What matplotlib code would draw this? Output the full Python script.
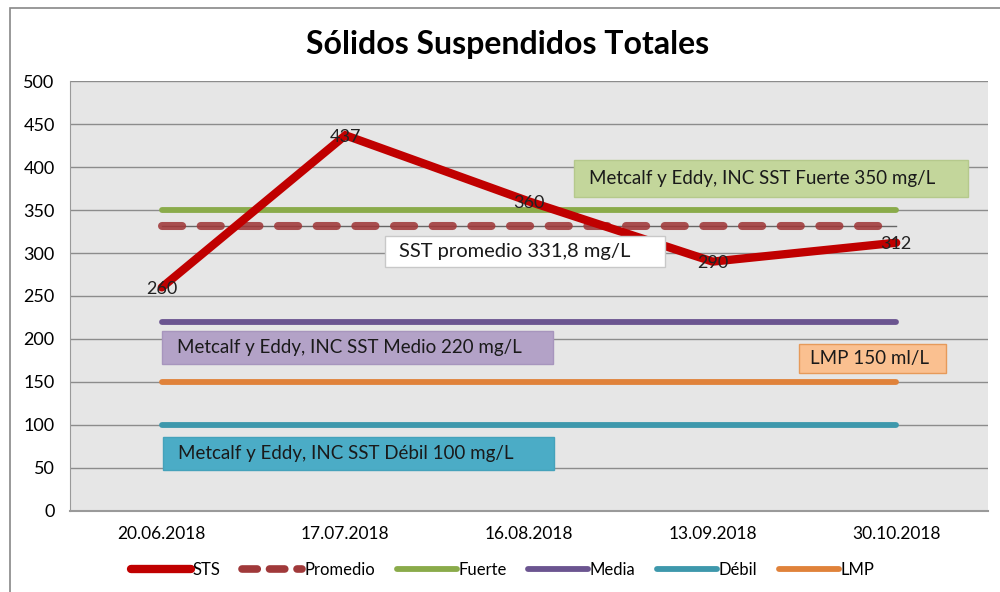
import matplotlib
matplotlib.use("Agg")
import matplotlib.pyplot as plt
from matplotlib.patches import Rectangle
from matplotlib.lines import Line2D

plt.rcParams['font.family'] = ['Lato', 'DejaVu Sans']

# ---- data ----
fechas = ["20.06.2018", "17.07.2018", "16.08.2018", "13.09.2018", "30.10.2018"]
sts = [260, 437, 360, 290, 312]
promedio = [331.8] * 5
fuerte = [350] * 5
media = [220] * 5
debil = [100] * 5
lmp = [150] * 5
yticks = [0, 50, 100, 150, 200, 250, 300, 350, 400, 450, 500]

c_sts = "#c00000"
c_prom = "#a0393a"
c_fuerte = "#8aab4a"
c_media = "#6b5590"
c_debil = "#3e98ac"
c_lmp = "#e0823a"

fig = plt.figure(figsize=(10, 5.92), dpi=100)
fig.patch.set_facecolor("white")
ax = fig.add_axes([0.070, 0.137, 0.918, 0.726])
ax.set_facecolor("#e6e6e6")

x = list(range(len(fechas)))
lw_h = 4.2
prom_dash = (2.5, 2.3)
ax.plot(x, debil, color=c_debil, lw=lw_h, solid_capstyle="round", zorder=3)
ax.plot(x, lmp, color=c_lmp, lw=lw_h, solid_capstyle="round", zorder=3)
ax.plot(x, media, color=c_media, lw=lw_h, solid_capstyle="round", zorder=3)
ax.plot(x, fuerte, color=c_fuerte, lw=lw_h, solid_capstyle="round", zorder=3)
ax.plot(x, promedio, color="#666666", lw=1.0, zorder=3)
ax.plot(x, promedio, color=c_prom, lw=5.8, alpha=0.88, dashes=prom_dash,
        dash_capstyle="round", zorder=4)
ax.plot(x, sts, color=c_sts, lw=6, solid_capstyle="round", solid_joinstyle="miter", zorder=5)

for xi, v in zip(x, sts):
    ax.text(xi, v - 2, str(v), ha="center", va="center", fontsize=13,
            color="#222222", zorder=6)

ax.set_xlim(-0.5, len(fechas) - 0.5)
ax.set_ylim(0, 500)
ax.set_yticks(yticks)
ax.set_xticks(x)
ax.set_xticklabels(fechas, fontsize=12.5)
ax.tick_params(axis="y", labelsize=13, length=0, pad=11)
ax.tick_params(axis="x", length=0, pad=11)
ax.yaxis.grid(True, color="#8c8c8c", lw=1)
ax.set_axisbelow(True)
for s in ["top", "right"]:
    ax.spines[s].set_visible(False)
ax.spines["left"].set_color("#9a9a9a")
ax.spines["bottom"].set_color("#9a9a9a")
ax.spines["bottom"].set_linewidth(1.5)

# annotation boxes: (x0, x1, y0, y1, text, face, edge, text_offset, fontsize)
boxes = [
    (2.245, 4.391, 365.1, 408.1, "Metcalf y Eddy, INC SST Fuerte 350 mg/L", "#c3d69b", "#b5c98c", 0.08, 13.5),
    (1.216, 2.741, 283.7, 319.8, "SST promedio 331,8 mg/L", "#ffffff", "#c8c8c8", 0.075, 14.5),
    (0.001, 2.131, 170.9, 209.3, "Metcalf y Eddy, INC SST Medio 220 mg/L", "#b3a2c7", "#a795bd", 0.08, 13.5),
    (3.471, 4.272, 160.5, 194.2, "LMP 150 ml/L", "#fac090", "#e69a5a", 0.06, 13.5),
    (0.007, 2.136, 47.7, 86.0, "Metcalf y Eddy, INC SST Débil 100 mg/L", "#4bacc6", "#45a2bb", 0.08, 13.5),
]
for x0, x1, y0, y1, t, fc, ec, off, fs in boxes:
    ax.add_patch(Rectangle((x0, y0), x1 - x0, y1 - y0, facecolor=fc, edgecolor=ec,
                           lw=1, zorder=7))
    ax.text(x0 + off, (y0 + y1) / 2, t, ha="left", va="center", fontsize=fs,
            color="#1a1a1a", zorder=8)

fig.text(0.508, 0.925, "Sólidos Suspendidos Totales", ha="center", va="center",
         fontsize=23, fontweight="bold", color="black")

handles = [
    Line2D([], [], color=c_sts, lw=6, solid_capstyle="round"),
    Line2D([], [], color=c_prom, lw=5.5, dashes=(2.0, 1.6), dash_capstyle="round"),
    Line2D([], [], color=c_fuerte, lw=lw_h, solid_capstyle="round"),
    Line2D([], [], color=c_media, lw=lw_h, solid_capstyle="round"),
    Line2D([], [], color=c_debil, lw=lw_h, solid_capstyle="round"),
    Line2D([], [], color=c_lmp, lw=lw_h, solid_capstyle="round"),
]
labels = ["STS", "Promedio", "Fuerte", "Media", "Débil", "LMP"]
fig.legend(handles, labels, loc="center", bbox_to_anchor=(0.503, 0.037), ncol=6,
           frameon=False, fontsize=12, handlelength=3.6, handletextpad=0.1,
           columnspacing=1.3)

fig.add_artist(Rectangle((0.010, -0.01), 1.5, 0.997, transform=fig.transFigure,
                         facecolor="none", edgecolor="#888888", lw=1.2))

fig.savefig("out.png", dpi=100)
